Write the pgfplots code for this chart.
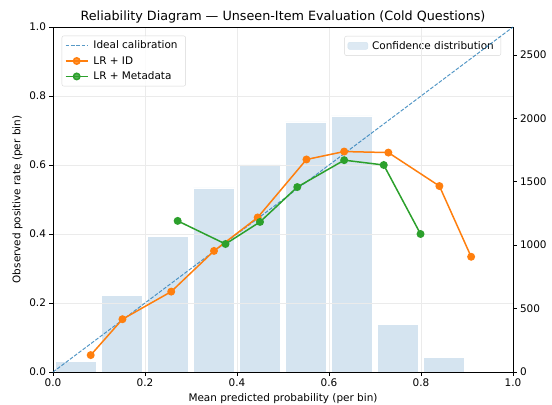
\documentclass[border=0pt]{standalone}
\usepackage{pgfplots}
\pgfplotsset{compat=1.18}
\usepackage{fontspec}
\setmainfont{DejaVu Sans}
\definecolor{tabblue}{HTML}{1F77B4}
\definecolor{taborange}{HTML}{FF7F0E}
\definecolor{tabgreen}{HTML}{2CA02C}
\definecolor{barblue}{RGB}{213,228,240}
\definecolor{gridgray}{RGB}{235,235,235}
\definecolor{legframe}{RGB}{215,215,215}
\newcommand{\fs}{\fontsize{10.5}{12.5}\selectfont}
\begin{document}
\begin{tikzpicture}
\pgfplotsset{
  every axis title shift=0pt,
  every axis/.append style={
    scale only axis, width=460bp, height=345bp,
    xmin=0, xmax=1,
    font=\fs,
    major tick length=3.5bp,
    tick align=outside,
    /pgf/number format/assume math mode=true,
    ticklabel style={font=\fs},
    legend cell align=left,
    legend style={font=\fs, draw=legframe, rounded corners=2bp, fill=white, fill opacity=0.8, text opacity=1, inner sep=3bp, row sep=2.2bp,
      nodes={inner xsep=4bp}},
  }
}
\begin{axis}[
  ymin=0, ymax=2720,
  axis y line*=right, axis x line=none,
  ytick={0,500,1000,1500,2000,2500},
  ytick style={black, line width=0.8bp},
  /pgf/number format/set thousands separator={},
  ylabel={Prediction density (count)},
  ybar, bar width=0.09,
  legend style={at={(0.974,0.974)}, anchor=north east},
  legend image code/.code={\fill[barblue] (-2bp,-3.5bp) rectangle (18bp,3.5bp);},
  y axis line style={black, line width=0.8bp},
]
\addplot[fill=barblue, draw=white, line width=0.5bp] coordinates {
 (0.05,84) (0.15,607) (0.25,1072) (0.35,1451) (0.45,1632) (0.55,1971) (0.65,2019) (0.75,378) (0.85,116)};
\addlegendentry{Confidence distribution}
\end{axis}
\begin{axis}[name=main,
  ymin=0, ymax=1,
  axis line style={black, line width=0.8bp},
  tick style={black, line width=0.8bp},
  tick pos=left,
  xtick={0,0.2,0.4,0.6,0.8,1}, ytick={0,0.2,0.4,0.6,0.8,1},
  xticklabel style={/pgf/number format/fixed, /pgf/number format/fixed zerofill, /pgf/number format/precision=1},
  yticklabel style={/pgf/number format/fixed, /pgf/number format/fixed zerofill, /pgf/number format/precision=1},
  grid=major, major grid style={gridgray, line width=0.8bp},
  xlabel={Mean predicted probability (per bin)},
  ylabel={Observed positive rate (per bin)},
  title={Reliability Diagram — Unseen-Item Evaluation (Cold Questions)},
  title style={at={(0.5,1)}, anchor=base, yshift=6bp, inner sep=0pt, font=\fontsize{12.8}{14}\selectfont},
  legend style={at={(0.019,0.975)}, anchor=north west, nodes={inner xsep=5bp}},
  legend image code/.code={\draw[mark repeat=2,mark phase=2] plot coordinates {(0bp,0bp) (11bp,0bp) (22bp,0bp)};},
]
\addplot[tabblue, opacity=0.75, dash pattern=on 3.7bp off 1.6bp, line width=1bp] coordinates {(0,0) (1,1)};
\addlegendentry{Ideal calibration}
\addplot[taborange, line width=1.5bp, mark=*, mark size=3.2bp, mark options={solid, fill=taborange, draw=taborange}] coordinates {
 (0.082,0.049) (0.151,0.153) (0.257,0.233) (0.350,0.351) (0.445,0.448) (0.551,0.616) (0.633,0.639) (0.729,0.636) (0.840,0.539) (0.909,0.334)};
\addlegendentry{LR + ID}
\addplot[tabgreen, line width=1.5bp, mark=*, mark size=3.2bp, mark options={solid, fill=tabgreen, draw=tabgreen}] coordinates {
 (0.271,0.438) (0.375,0.371) (0.450,0.435) (0.531,0.536) (0.633,0.614) (0.719,0.600) (0.799,0.400)};
\addlegendentry{LR + Metadata}
\end{axis}
\pgfresetboundingbox
\path ([xshift=-53bp,yshift=-33bp]main.south west) rectangle ([xshift=39bp,yshift=27bp]main.north east);
\end{tikzpicture}
\end{document}
